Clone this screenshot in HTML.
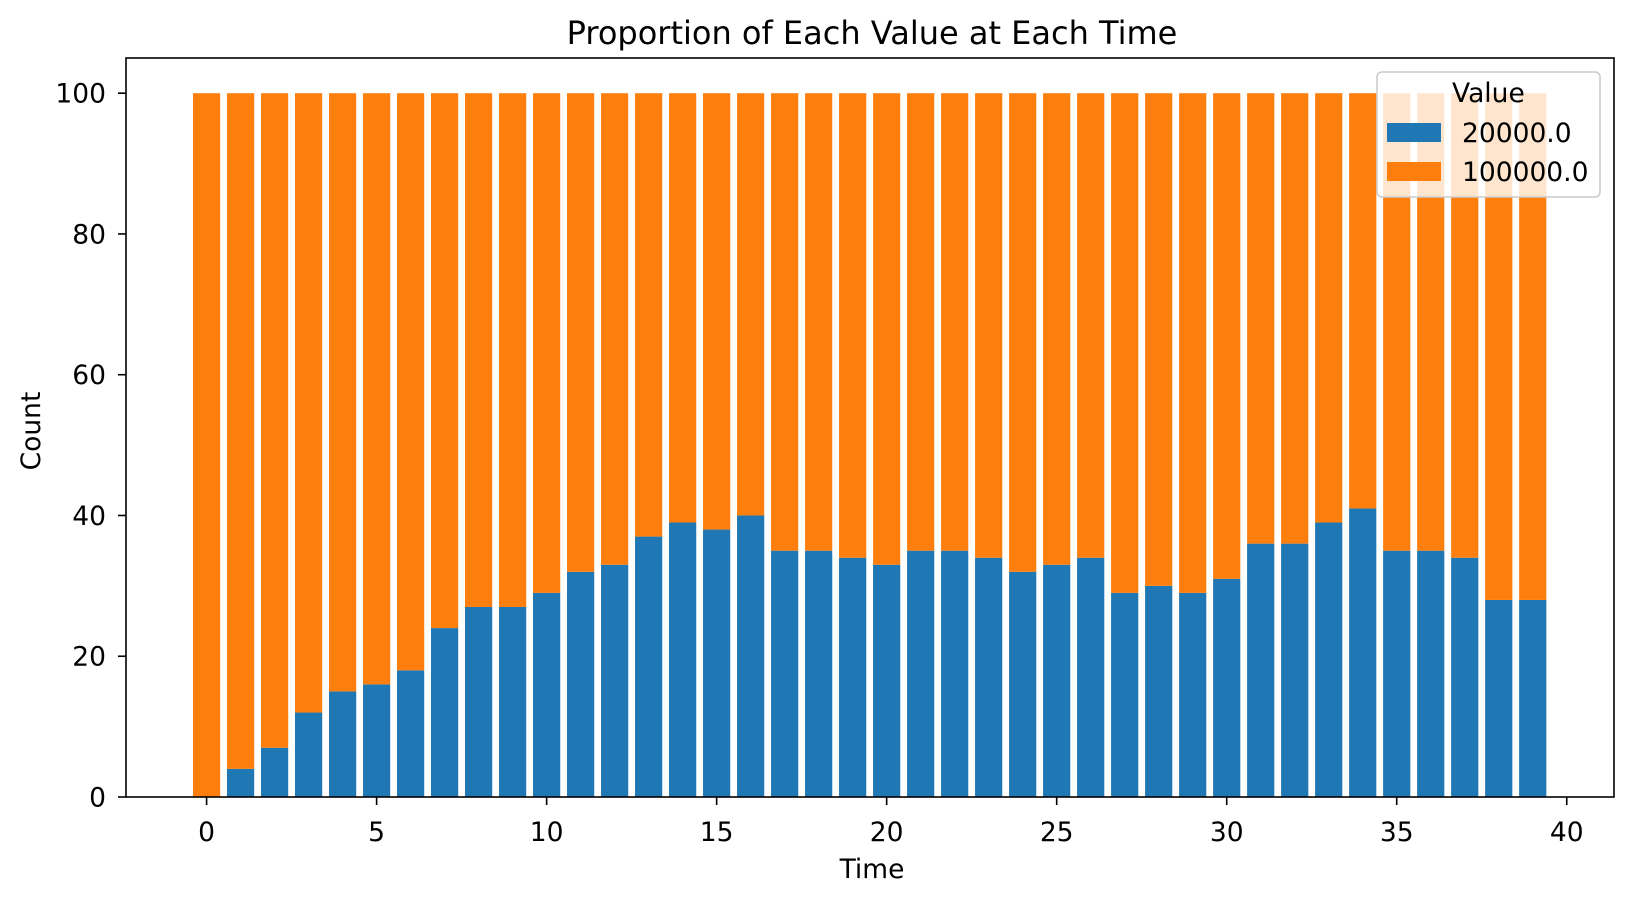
<!DOCTYPE html>
<html><head><meta charset="utf-8"><style>
body{margin:0;background:#fff;}
svg text{font-family:"DejaVu Sans","Liberation Sans",sans-serif;fill:#000;}
</style></head><body>
<svg id="chart" width="1632" height="898" xmlns="http://www.w3.org/2000/svg">
<rect width="1632" height="898" fill="#fff"/>
<g id="bars"></g>
<g id="axes"></g>
</svg>
<script>
const times = [0,1,2,3,4,5,6,7,8,9,10,11,12,13,14,15,16,17,18,19,20,21,22,23,24,25,26,27,28,29,30,31,32,33,34,35,36,37,38,39];
const low = [0,4,7,12,15,16,18,24,27,27,29,32,33,37,39,38,40,35,35,34,33,35,35,34,32,33,34,29,30,29,31,36,36,39,41,35,35,34,28,28];
const totals = [100,100,100,100,100,100,100,100,100,100,100,100,100,100,100,100,100,100,100,100,100,100,100,100,100,100,100,100,100,100,100,100,100,100,100,100,100,100,100,100];
const xTicks = [0,5,10,15,20,25,30,35,40];
const yTicks = [0,20,40,60,80,100];
const seriesNames = ["20000.0","100000.0"];

const L=126,R=1614,T=58,B=797;
const xMin=-2.37,xMax=41.39,yMin=0,yMax=105;
const X=v=>L+(v-xMin)/(xMax-xMin)*(R-L);
const Y=v=>B-(v-yMin)/(yMax-yMin)*(B-T);
const NS="http://www.w3.org/2000/svg";
function mk(tag,attrs,parent){const e=document.createElementNS(NS,tag);for(const k in attrs)e.setAttribute(k,attrs[k]);parent.appendChild(e);return e;}
const bars=document.getElementById('bars'), axes=document.getElementById('axes');
const bw=0.8*(X(1)-X(0));
times.forEach((t,i)=>{
  const b=mk('rect',{x:X(t)-bw/2,y:Y(low[i]),width:bw,height:Y(0)-Y(low[i]),fill:'#1f77b4'},bars);
  
  
  const o=mk('rect',{x:X(t)-bw/2,y:Y(totals[i]),width:bw,height:Y(low[i])-Y(totals[i]),fill:'#ff7f0e'},bars);
  
  
});
const frame=mk('rect',{x:L,y:T,width:R-L,height:B-T,fill:'none',stroke:'#000','stroke-width':1.6},axes);


xTicks.forEach(v=>{
  mk('line',{x1:X(v),x2:X(v),y1:B,y2:B+8,stroke:'#000','stroke-width':1.6},axes);
  const t=mk('text',{x:X(v),y:B+44,'text-anchor':'middle','font-size':26.5},axes);
  t.textContent=v;
  
  
});
yTicks.forEach(v=>{
  mk('line',{x1:L-8,x2:L,y1:Y(v),y2:Y(v),stroke:'#000','stroke-width':1.6},axes);
  const t=mk('text',{x:L-20,y:Y(v)+9.5,'text-anchor':'end','font-size':26.5},axes);
  t.textContent=v;
  
  
});
</script>
<svg width="1632" height="898" style="position:absolute;left:0;top:0" xmlns="http://www.w3.org/2000/svg">
<text x="872" y="44" text-anchor="middle" font-size="32">Proportion of Each Value at Each Time</text>
<text x="872" y="878" text-anchor="middle" font-size="26.5">Time</text>
<text transform="translate(40,431) rotate(-90)" text-anchor="middle" font-size="26.5">Count</text>
<g>
<rect x="1377" y="72" width="223" height="125" rx="5" fill="#fff" fill-opacity="0.8" stroke="#ccc" stroke-width="1.6"/>
<text x="1452" y="102" font-size="26.5">Value</text>
<rect x="1387" y="123" width="54" height="19" fill="#1f77b4"/>
<text x="1462" y="142" font-size="26.5">20000.0</text>
<rect x="1387" y="162" width="54" height="19" fill="#ff7f0e"/>
<text x="1462" y="181" font-size="26.5">100000.0</text>
</g>
</svg>
</body></html>
